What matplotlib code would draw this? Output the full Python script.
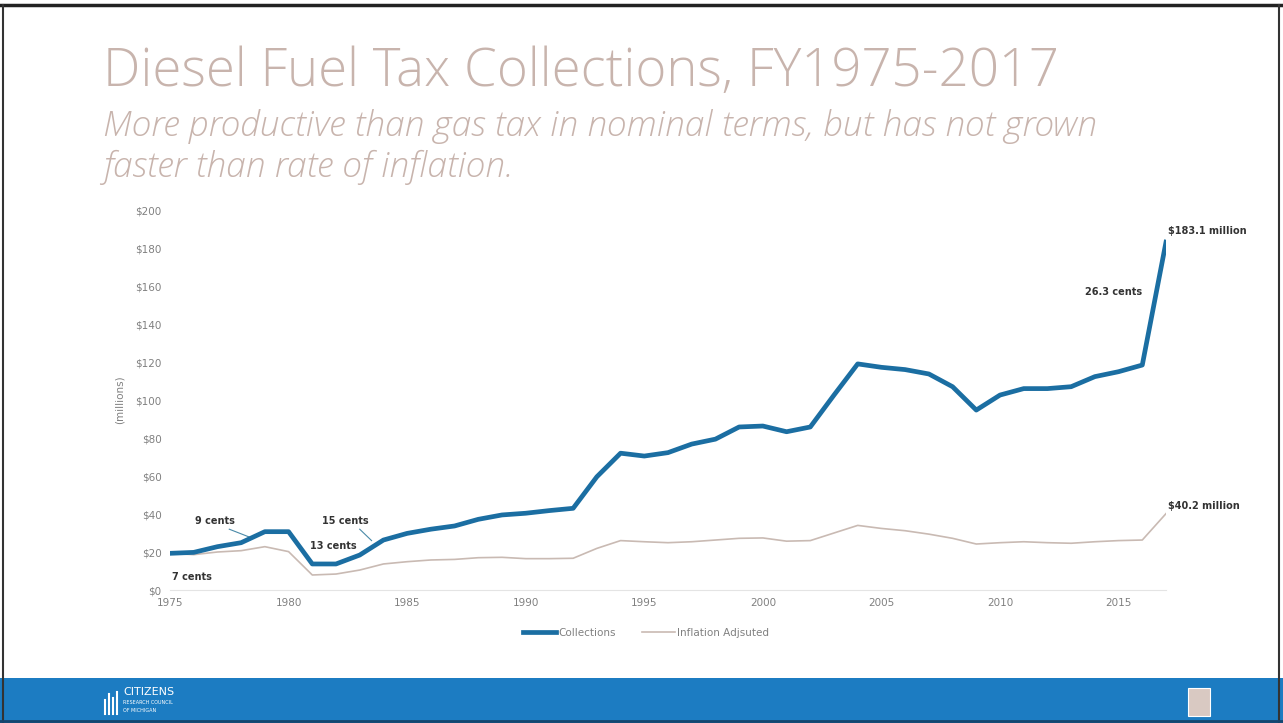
import numpy as np
import matplotlib
matplotlib.use('Agg')
import matplotlib.pyplot as plt
from matplotlib.patches import Rectangle
from matplotlib.lines import Line2D

# data (millions of dollars)
years = list(range(1975, 2018))
collections = [19.3, 19.8, 22.8, 24.9, 30.7, 30.7, 13.7, 13.7, 18.4, 26.3,
               29.8, 32.0, 33.7, 37.2, 39.5, 40.4, 41.8, 43.0, 59.6, 72.0,
               70.5, 72.3, 76.8, 79.4, 85.8, 86.3, 83.3, 85.8, 102.6, 119.0,
               117.2, 116.0, 113.7, 107.0, 94.7, 102.6, 106.0, 106.0, 107.0, 112.3,
               114.9, 118.4, 183.1]
inflation_adj = [19.3, 18.6, 20.0, 20.7, 22.8, 20.2, 7.9, 8.4, 10.5, 13.7,
                 14.9, 15.8, 16.1, 17.0, 17.2, 16.5, 16.5, 16.7, 21.9, 26.0,
                 25.4, 24.9, 25.4, 26.3, 27.2, 27.4, 25.7, 26.0, 30.0, 34.0,
                 32.4, 31.2, 29.4, 27.2, 24.2, 24.9, 25.4, 24.9, 24.6, 25.4,
                 26.0, 26.3, 40.2]
yticks = list(range(0, 201, 20))
xticks = [1975, 1980, 1985, 1990, 1995, 2000, 2005, 2010, 2015]

W, H = 1283, 723
fig = plt.figure(figsize=(W / 100, H / 100), dpi=100)
fig.patch.set_facecolor('white')

def fx(px):
    return px / W

def fy(py):
    return 1 - py / H

ax = fig.add_axes([fx(170), fy(590), fx(1166) - fx(170), fy(210) - fy(590)])

blue = '#1b6ea2'
grey_line = '#c9bab3'
ax.plot(years, inflation_adj, color=grey_line, lw=1.2, label='Inflation Adjsuted', zorder=2)
ax.plot(years, collections, color=blue, lw=3.4, label='Collections', zorder=3,
        solid_joinstyle='round')

ax.set_xlim(1975, 2017)
ax.set_ylim(0, 200)
ax.set_yticks(yticks)
ax.set_yticklabels(['$%d' % v for v in yticks])
ax.set_xticks(xticks)
ax.tick_params(length=0, labelsize=7.5, colors='#808080', pad=6)
for s in ['top', 'right', 'left']:
    ax.spines[s].set_visible(False)
ax.spines['bottom'].set_color('#e4e4e4')
ax.spines['bottom'].set_linewidth(0.8)
ax.set_ylabel('(millions)', fontsize=7.5, color='#808080', labelpad=8)

# annotations
ann = dict(fontsize=7, fontweight='bold', color='#333333')
ax.text(1975.1, 7, '7 cents', ha='left', va='center', **ann)
ax.text(1976.9, 36.5, '9 cents', ha='center', va='center', **ann)
ax.plot([1977.5, 1978.4], [32, 27.6], color='#4a8aa8', lw=0.8)
ax.text(1982.4, 36.5, '15 cents', ha='center', va='center', **ann)
ax.plot([1983.0, 1983.5], [32, 26], color='#4a8aa8', lw=0.8)
ax.text(1981.9, 23, '13 cents', ha='center', va='center', **ann)
ax.text(2014.8, 157, '26.3 cents', ha='center', va='center', **ann)
ax.text(2017.1, 189, '$183.1 million', ha='left', va='center', clip_on=False, **ann)
ax.text(2017.1, 44, '$40.2 million', ha='left', va='center', clip_on=False, **ann)

# legend
h, l = ax.get_legend_handles_labels()
fig.legend([h[1], h[0]], [l[1], l[0]], loc='center', bbox_to_anchor=(fx(646), fy(633)),
           ncol=2, frameon=False, fontsize=7.5, labelcolor='#808080',
           handlelength=3.2, handletextpad=0.2, columnspacing=2.5)

# titles
title_col = '#c8b4ad'
fam = ['Open Sans', 'DejaVu Sans']
fig.text(fx(103), fy(72), 'Diesel Fuel Tax Collections, FY1975-2017', fontsize=38,
         color=title_col, family=fam, fontweight='light', ha='left', va='center')
fig.text(fx(103), fy(127), 'More productive than gas tax in nominal terms, but has not grown',
         fontsize=25.5, color=title_col, style='italic', family=fam, fontweight='light',
         ha='left', va='center')
fig.text(fx(103), fy(167), 'faster than rate of inflation.',
         fontsize=25.5, color=title_col, style='italic', family=fam, fontweight='light',
         ha='left', va='center')

# slide frame and footer band
fig.patches.append(Rectangle((0, 0), 1, fy(678), transform=fig.transFigure,
                             facecolor='#1c7cc2', edgecolor='none', zorder=0))
fig.patches.append(Rectangle((fx(1188), fy(716)), fx(22), fy(688) - fy(716), transform=fig.transFigure,
                             facecolor='#d9c9c2', edgecolor='white', lw=0.8, zorder=1))
fig.lines.append(Line2D([0, 1], [fy(5), fy(5)], transform=fig.transFigure, color='#222222', lw=2.5))
fig.lines.append(Line2D([fx(3), fx(3)], [0, fy(5)], transform=fig.transFigure, color='#333333', lw=1.5))
fig.lines.append(Line2D([fx(1279), fx(1279)], [0, fy(5)], transform=fig.transFigure, color='#333333', lw=1.5))
fig.lines.append(Line2D([0, 1], [fy(721), fy(721)], transform=fig.transFigure, color='#14466e', lw=2))
fig.text(fx(123), fy(692), 'CITIZENS', fontsize=8, color='white', ha='left', va='center')
fig.text(fx(123), fy(703), 'RESEARCH COUNCIL', fontsize=3.5, color='white', ha='left', va='center')
fig.text(fx(123), fy(710), 'OF MICHIGAN', fontsize=3.5, color='white', ha='left', va='center')
for i, hgt in enumerate([14, 20, 16, 22]):
    fig.lines.append(Line2D([fx(105 + 4 * i)] * 2, [fy(714), fy(714 - hgt)],
                            transform=fig.transFigure, color='white', lw=1.5))

fig.savefig('out.png', dpi=100)
